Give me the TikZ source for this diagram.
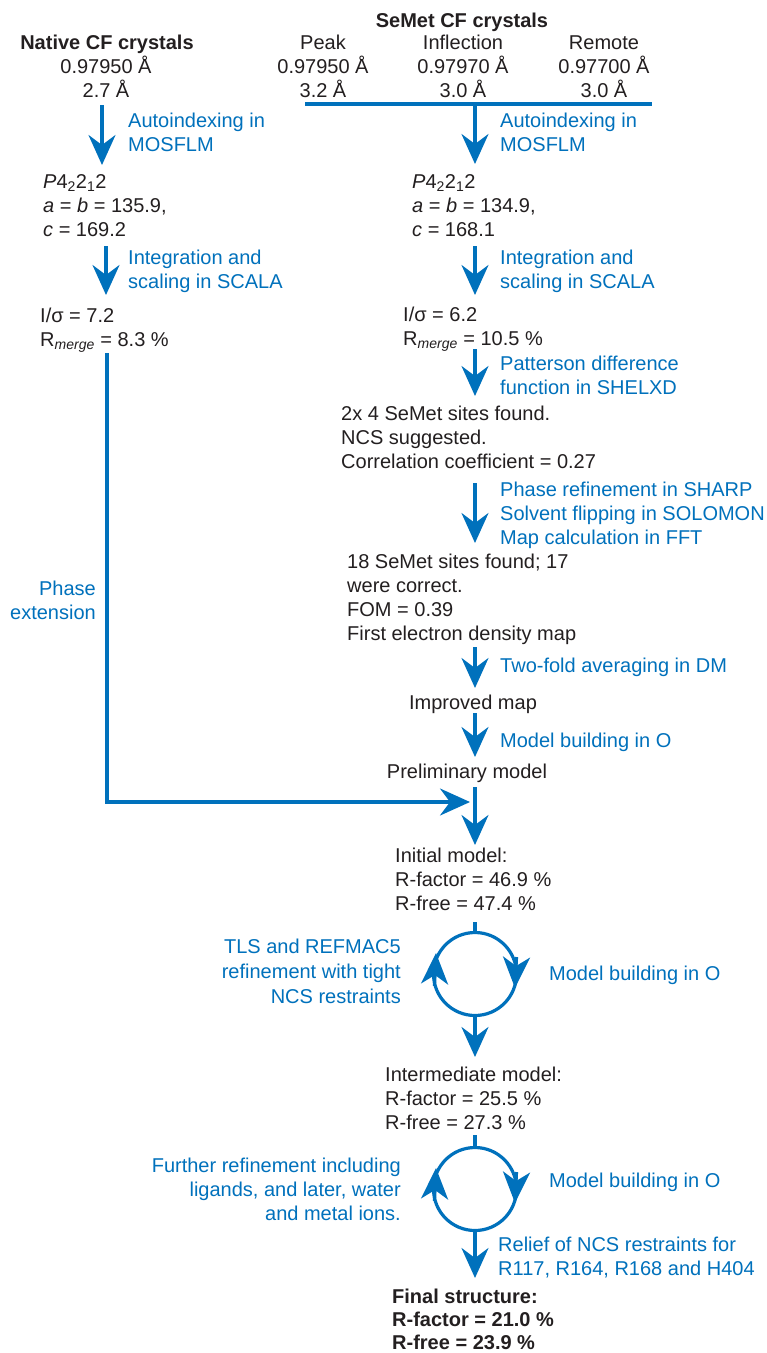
\documentclass[tikz,border=0pt]{standalone}
\usepackage{fontspec}
\setmainfont{Liberation Sans}
\usetikzlibrary{arrows.meta}
\definecolor{flowblue}{HTML}{0071BC}
\definecolor{inkgray}{HTML}{231F20}
\tikzset{
  txtbody/.style={inkgray, font=\fontsize{20}{24}\selectfont, inner sep=0pt},
  txthead/.style={inkgray, font=\fontsize{20}{24}\selectfont\bfseries, inner sep=0pt},
  txtblock/.style={txtbody, align=left, anchor=north west},
  txtnote/.style={flowblue, font=\fontsize{20}{24}\selectfont, inner sep=0pt, align=left, anchor=north west},
  flow/.style={flowblue, line width=3.2pt, -{Stealth[length=30pt, width=27pt, inset=10pt]}},
  cyctip/.style={flowblue, line width=3.2pt, -{Stealth[length=31pt, width=27pt, inset=9pt]}},
  link/.style={flowblue, line width=3.2pt},
}

\begin{document}
\begin{tikzpicture}[x=1pt, y=-1pt]
  \useasboundingbox[fill=white] (0,0) rectangle (767,1353);

  % Data sets
  \node[txthead, anchor=base] (semhead) at (462,27) {SeMet CF crystals};
  \node[txthead, anchor=base] (nathead) at (107,49) {Native CF crystals};
  \node[txtbody, anchor=base] (peak) at (323,49) {Peak};
  \node[txtbody, anchor=base] (infl) at (463,49) {Inflection};
  \node[txtbody, anchor=base] (remote) at (604,49) {Remote};
  \node[txtbody, anchor=base] (natwl) at (106,73) {0.97950 Å};
  \node[txtbody, anchor=base] (peakwl) at (323,73) {0.97950 Å};
  \node[txtbody, anchor=base] (inflwl) at (463,73) {0.97970 Å};
  \node[txtbody, anchor=base] (remwl) at (604,73) {0.97700 Å};
  \node[txtbody, anchor=base] (natres) at (106,97) {2.7 Å};
  \node[txtbody, anchor=base] (peakres) at (323,97) {3.2 Å};
  \node[txtbody, anchor=base] (inflres) at (463,97) {3.0 Å};
  \node[txtbody, anchor=base] (remres) at (604,97) {3.0 Å};

  % Native branch
  \node[txtnote] (natidx) at (128,112.7) {Autoindexing in\\MOSFLM};
  \node[txtblock] (natcell) at (43,174.7) {\textit{P}4\textsubscript{2}2\textsubscript{1}2\\\textit{a} = \textit{b} = 135.9,\\\textit{c} = 169.2};
  \node[txtnote] (natscl) at (128,249.7) {Integration and\\scaling in SCALA};
  \node[txtblock] (natstat) at (40,307.7) {I/σ = 7.2\\R\textsubscript{\itshape merge} = 8.3 \%};
  \node[txtnote, align=right, anchor=north east] (phaselbl) at (96,580.7) {Phase\\extension};

  % SeMet branch
  \node[txtnote] (semidx) at (500,112.7) {Autoindexing in\\MOSFLM};
  \node[txtblock] (semcell) at (412,174.7) {\textit{P}4\textsubscript{2}2\textsubscript{1}2\\\textit{a} = \textit{b} = 134.9,\\\textit{c} = 168.1};
  \node[txtnote] (semscl) at (500,249.7) {Integration and\\scaling in SCALA};
  \node[txtblock] (semstat) at (403,306.7) {I/σ = 6.2\\R\textsubscript{\itshape merge} = 10.5 \%};
  \node[txtnote] (pattlbl) at (500,355.7) {Patterson difference\\function in SHELXD};
  \node[txtblock] (sites) at (341,405.7) {2x 4 SeMet sites found.\\NCS suggested.\\Correlation coefficient = 0.27};
  \node[txtnote] (sharplbl) at (500,481.7) {Phase refinement in SHARP\\Solvent flipping in SOLOMON\\Map calculation in FFT};
  \node[txtblock] (firstmap) at (347,553.7) {18 SeMet sites found; 17\\were correct.\\FOM = 0.39\\First electron density map};
  \node[txtnote] (dmlbl) at (500,657.7) {Two-fold averaging in DM};
  \node[txtbody, anchor=base] (impmap) at (473,709) {Improved map};
  \node[txtnote] (build1lbl) at (500,732.7) {Model building in O};
  \node[txtbody, anchor=base] (prelim) at (467,778) {Preliminary model};

  % Refinement
  \node[txtblock] (initmod) at (395,847.7) {Initial model:\\R-factor = 46.9 \%\\R-free = 47.4 \%};
  \node[txtnote, align=right, anchor=north east] (tlslbl) at (401,938.7) {TLS and REFMAC5\\[1pt]refinement with tight\\[1pt]NCS restraints};
  \node[txtnote] (build2lbl) at (549,965.7) {Model building in O};
  \node[txtblock] (intmod) at (385,1066.7) {Intermediate model:\\R-factor = 25.5 \%\\R-free = 27.3 \%};
  \node[txtnote, align=right, anchor=north east] (furtherlbl) at (401,1157.7) {Further refinement including\\ligands, and later, water\\and metal ions.};
  \node[txtnote] (build3lbl) at (549,1172.7) {Model building in O};
  \node[txtnote] (relieflbl) at (498,1236.7) {Relief of NCS restraints for\\R117, R164, R168 and H404};
  \node[txthead, align=left, anchor=north west] (final) at (392,1288.7) {Final structure:\\[-1pt]R-factor = 21.0 \%\\[-1pt]R-free = 23.9 \%};

  % Connector ends
  \coordinate (barL) at (305,104);
  \coordinate (barR) at (652,104);
  \coordinate (barM) at (475,104);
  \coordinate (natA) at (102,105);
  \coordinate (natB) at (102,165);
  \coordinate (semB) at (475,164);
  \coordinate (natC) at (106,246);
  \coordinate (natD) at (106,295);
  \coordinate (semC) at (475,246);
  \coordinate (semD) at (475,295);
  \coordinate (semE) at (475,349);
  \coordinate (semF) at (475,396);
  \coordinate (semG) at (475,483);
  \coordinate (semH) at (475,543);
  \coordinate (semI) at (475,647);
  \coordinate (semJ) at (475,688);
  \coordinate (semK) at (475,713);
  \coordinate (semL) at (475,757);
  \coordinate (phA) at (107,353);
  \coordinate (phB) at (470,802);
  \coordinate (semM) at (475,787);
  \coordinate (semN) at (475,845);
  \coordinate (cyc1) at (475,974);
  \coordinate (cyc2) at (475,1189);

  % Arrows
  \draw[link] (barL) -- (barR);
  \draw[flow] (natA) -- (natB);
  \draw[flow] (barM) -- (semB);
  \draw[flow] (natC) -- (natD);
  \draw[flow] (semC) -- (semD);
  \draw[flow] (semE) -- (semF);
  \draw[flow] (semG) -- (semH);
  \draw[flow] (semI) -- (semJ);
  \draw[flow] (semK) -- (semL);
  \draw[flow] (phA) |- (phB);
  \draw[flow] (semM) -- (semN);

  % Refinement cycles
  \foreach \c/\top/\bot in {cyc1/922/1057, cyc2/1135/1278}{
    \draw[link] (\c) circle (41.5);
    \draw[link] (475,\top) -- ([yshift=41.5pt]\c);
    \draw[flow] ([yshift=-41.5pt]\c) -- (475,\bot);
    \draw[cyctip] ([shift={(-40.5,12)}]\c) -- ([shift={(-39,-21)}]\c);
    \draw[cyctip] ([shift={(41.5,-17)}]\c) -- ([shift={(40,14)}]\c);
  }
\end{tikzpicture}
\end{document}
